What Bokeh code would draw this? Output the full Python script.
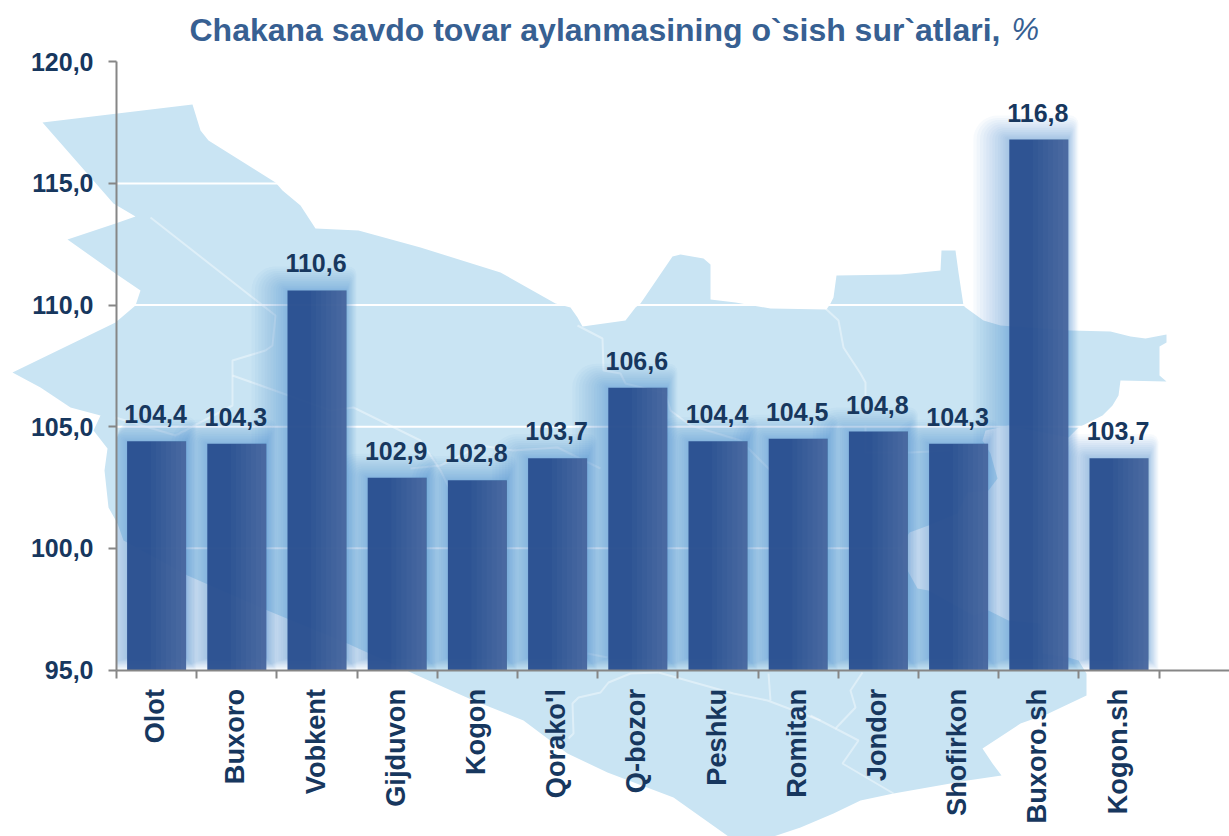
from math import pi
from bokeh.plotting import figure
from bokeh.models import (ColumnDataSource, FixedTicker, LinearAxis, Range1d, Label)
from bokeh.embed import file_html
from bokeh.resources import INLINE
from bokeh.core.properties import value

categories = ["Olot", "Buxoro", "Vobkent", "Gijduvon", "Kogon", "Qorako'l", "Q-bozor",
              "Peshku", "Romitan", "Jondor", "Shofirkon", "Buxoro.sh", "Kogon.sh"]
values = [104.4, 104.3, 110.6, 102.9, 102.8, 103.7, 106.6, 104.4, 104.5, 104.8, 104.3, 116.8, 103.7]
y_ticks = [95, 100, 105, 110, 115, 120]

# background map silhouette (decorative picture in the reference), in picture pixels
map_x = [42, 192, 200, 208, 275, 282, 300, 315, 358, 420, 500, 555, 570, 577, 582, 625, 635, 640,
         672, 680, 703, 710, 710, 735, 770, 826, 830, 833, 836, 900, 940, 941, 955, 958, 963, 965,
         983, 1000, 1070, 1110, 1130, 1145, 1166, 1166, 1159, 1159, 1166, 1120, 1118, 1112, 1102,
         1078, 1068, 1008, 985, 982, 990, 997, 988, 967, 957, 928, 909, 897, 907, 917, 928, 973,
         988, 1008, 1040, 1042, 1068, 1078, 1086, 1086, 1048, 1020, 982, 992, 1001, 967, 893, 860,
         833, 800, 773, 740, 728, 673, 607, 567, 523, 473, 417, 347, 267, 187, 123, 117, 108, 104,
         107, 93, 100, 70, 40, 12, 115, 135, 139, 140, 115, 67, 115, 135, 113]
map_y = [122, 104, 130, 140, 182, 190, 205, 228, 230, 247, 272, 303, 307, 317, 326, 320, 307, 303,
         256, 254, 258, 264, 299, 302, 308, 309, 303, 297, 275, 274, 270, 250, 250, 272, 305, 307,
         320, 325, 330, 331, 336, 338, 334, 342, 346, 375, 381, 380, 395, 405, 415,
         427, 437, 425, 430, 440, 453, 478, 490, 492, 513, 525, 532, 550, 570, 588, 590, 615,
         610, 620, 623, 653, 657, 660, 673, 695, 713, 723, 748, 763, 775, 780, 793, 800,
         813, 827, 836, 836, 836, 797, 772, 753, 720, 700, 675, 643, 610, 575, 540, 523, 507, 470,
         448, 430, 415, 407, 387, 372, 322, 305, 293, 290, 273, 239, 223, 216, 203]

# district borders on the map, in picture pixels
border_x = [[150, 275, 272, 265, 232, 232, 232, 175, 115],
            [232, 330, 353, 420, 440, 450],
            [577, 602, 603, 620, 625, 665, 670, 690, 740, 770],
            [410, 440, 480, 513, 557, 600],
            [825, 838, 843, 860, 865, 865],
            [865, 865, 910, 950],
            [658, 630, 608, 600, 578, 572, 573, 568],
            [658, 733, 767, 820],
            [768, 770],
            [862, 850, 855, 835, 810],
            [835, 858, 842, 893],
            [587, 607]]
border_y = [[217, 315, 345, 350, 360, 375, 405, 435, 417],
            [375, 410, 407, 440, 470, 490],
            [325, 338, 370, 373, 383, 393, 410, 425, 440, 470],
            [468, 465, 445, 450, 447, 468],
            [308, 320, 347, 373, 382, 397],
            [425, 452, 452, 450],
            [672, 673, 682, 692, 697, 703, 733, 738],
            [672, 693, 700, 720],
            [673, 700],
            [672, 690, 707, 728, 715],
            [728, 740, 763, 793],
            [653, 657]]

FONT = "Liberation Sans"
NAVY = "#17375e"
W, H = 1229, 836
PAD = 0
AX_X, STEP = 116.0, 80.2
Y95, PER = 669.5, 24.33
END = 1229.0


def xd(px):
    return (px - AX_X) / STEP


def yd(py):
    return 95 - (py - Y95) / PER


p = figure(width=W, height=H, output_backend="svg", toolbar_location=None,
           x_range=Range1d(xd(PAD), xd(PAD + W)), y_range=Range1d(yd(PAD + H), yd(PAD)),
           min_border=0, min_border_left=0, min_border_right=0, min_border_top=0,
           min_border_bottom=0, outline_line_color=None, background_fill_color="white",
           x_axis_type=None, y_axis_type=None)
p.grid.visible = False
p.extra_x_ranges = {"px": Range1d(PAD, PAD + W)}
p.extra_y_ranges = {"px": Range1d(PAD + H, PAD)}

# map
p.patch(map_x, map_y, x_range_name="px", y_range_name="px", fill_color="#c9e4f3",
        line_color=None, level="image")
p.multi_line(border_x, border_y, x_range_name="px", y_range_name="px", line_color="white",
             line_alpha=0.4, line_width=2, level="image")

# gridlines
grid_vals = y_ticks[1:]
p.segment(x0=[0] * len(grid_vals), x1=[xd(END)] * len(grid_vals), y0=grid_vals, y1=grid_vals,
          line_color="white", line_width=2, level="underlay")

xs = [i + 0.5 for i in range(len(values))]
bw = 59.0 / STEP

# soft glow behind each bar, kept inside the plot area on the left
N = 14
for k in range(N, 0, -1):
    f = (k / N) ** 1.35
    left_px, right_px, top_px, bottom_px = 36 * f, 10 * f, 24 * f, 12 * (1 - f)
    src = ColumnDataSource(dict(
        left=[max(0, x - bw / 2 - left_px / STEP) for x in xs],
        right=[x + bw / 2 + right_px / STEP for x in xs],
        top=[v + top_px / PER for v in values],
        bottom=[95 + bottom_px / PER] * len(values)))
    p.quad(left="left", right="right", top="top", bottom="bottom", source=src,
           fill_color="#4f86d6", fill_alpha=0.045, line_color=None,
           border_radius=dict(top_left=int(24 * f), top_right=int(8 * f), bottom_right=0, bottom_left=0))

# bars
p.vbar(x=xs, width=bw, bottom=95, top=values, fill_color="#2a4f90", fill_alpha=0.96, line_color=None)

# lighter sheen towards the right side of each bar
S = 7
for k in range(S):
    start = 0.4 + 0.085 * k
    src = ColumnDataSource(dict(
        left=[x - bw / 2 + bw * start for x in xs],
        right=[x + bw / 2 for x in xs],
        top=values,
        bottom=[95] * len(values)))
    p.quad(left="left", right="right", top="top", bottom="bottom", source=src,
           fill_color="white", fill_alpha=0.022, line_color=None)

# value labels
p.text(x=xs, y=values, text=[f"{v:.1f}".replace(".", ",") for v in values],
       text_font=value(FONT), text_font_style="bold", text_font_size="25px",
       text_color=NAVY, text_align="center", text_baseline="alphabetic", y_offset=-27, x_offset=-1)

# y axis
yax = LinearAxis(fixed_location=0, ticker=FixedTicker(ticks=y_ticks), bounds=(95, 120),
                 major_label_overrides={t: f"{t:.1f}".replace(".", ",") for t in y_ticks},
                 axis_line_color="#868686", axis_line_width=2,
                 major_tick_line_color="#868686", major_tick_line_width=2,
                 major_tick_in=0, major_tick_out=8, minor_tick_line_color=None,
                 major_label_standoff=15, major_label_text_font=FONT,
                 major_label_text_font_style="bold", major_label_text_font_size="25px",
                 major_label_text_color=NAVY)
p.add_layout(yax, "left")

# x axis: separators
xax = LinearAxis(fixed_location=95, ticker=FixedTicker(ticks=list(range(len(values) + 1))),
                 bounds=(0, xd(END)), axis_line_color="#868686", axis_line_width=2,
                 major_tick_line_color="#868686", major_tick_line_width=2,
                 major_tick_in=0, major_tick_out=8, minor_tick_line_color=None,
                 major_label_text_font_size="0px", major_label_text_color=None)
p.add_layout(xax, "below")

# x axis: category names, reading upwards (nudged slightly left as in the reference)
name_ticks = [x - 2 / STEP for x in xs]
nax = LinearAxis(fixed_location=95, ticker=FixedTicker(ticks=name_ticks),
                 major_label_overrides={x: c for x, c in zip(name_ticks, categories)},
                 axis_line_color=None, major_tick_line_color=None, minor_tick_line_color=None,
                 major_label_orientation=pi / 2, major_label_standoff=13,
                 major_label_text_font=FONT, major_label_text_font_style="bold",
                 major_label_text_font_size="27.2px", major_label_text_color=NAVY)
p.add_layout(nax, "below")

# title
p.add_layout(Label(x=189, y=29, x_range_name="px", y_range_name="px",
                   text="Chakana savdo tovar aylanmasining o`sish sur`atlari,",
                   text_font=FONT, text_font_style="bold", text_font_size="32px",
                   text_color="#376092", text_baseline="alphabetic"))
p.add_layout(Label(x=1011, y=29, x_range_name="px", y_range_name="px", text="%",
                   text_font=FONT, text_font_style="italic", text_font_size="31px",
                   text_color="#376092", text_baseline="alphabetic"))

open("out.html", "w").write(file_html(p, INLINE))
